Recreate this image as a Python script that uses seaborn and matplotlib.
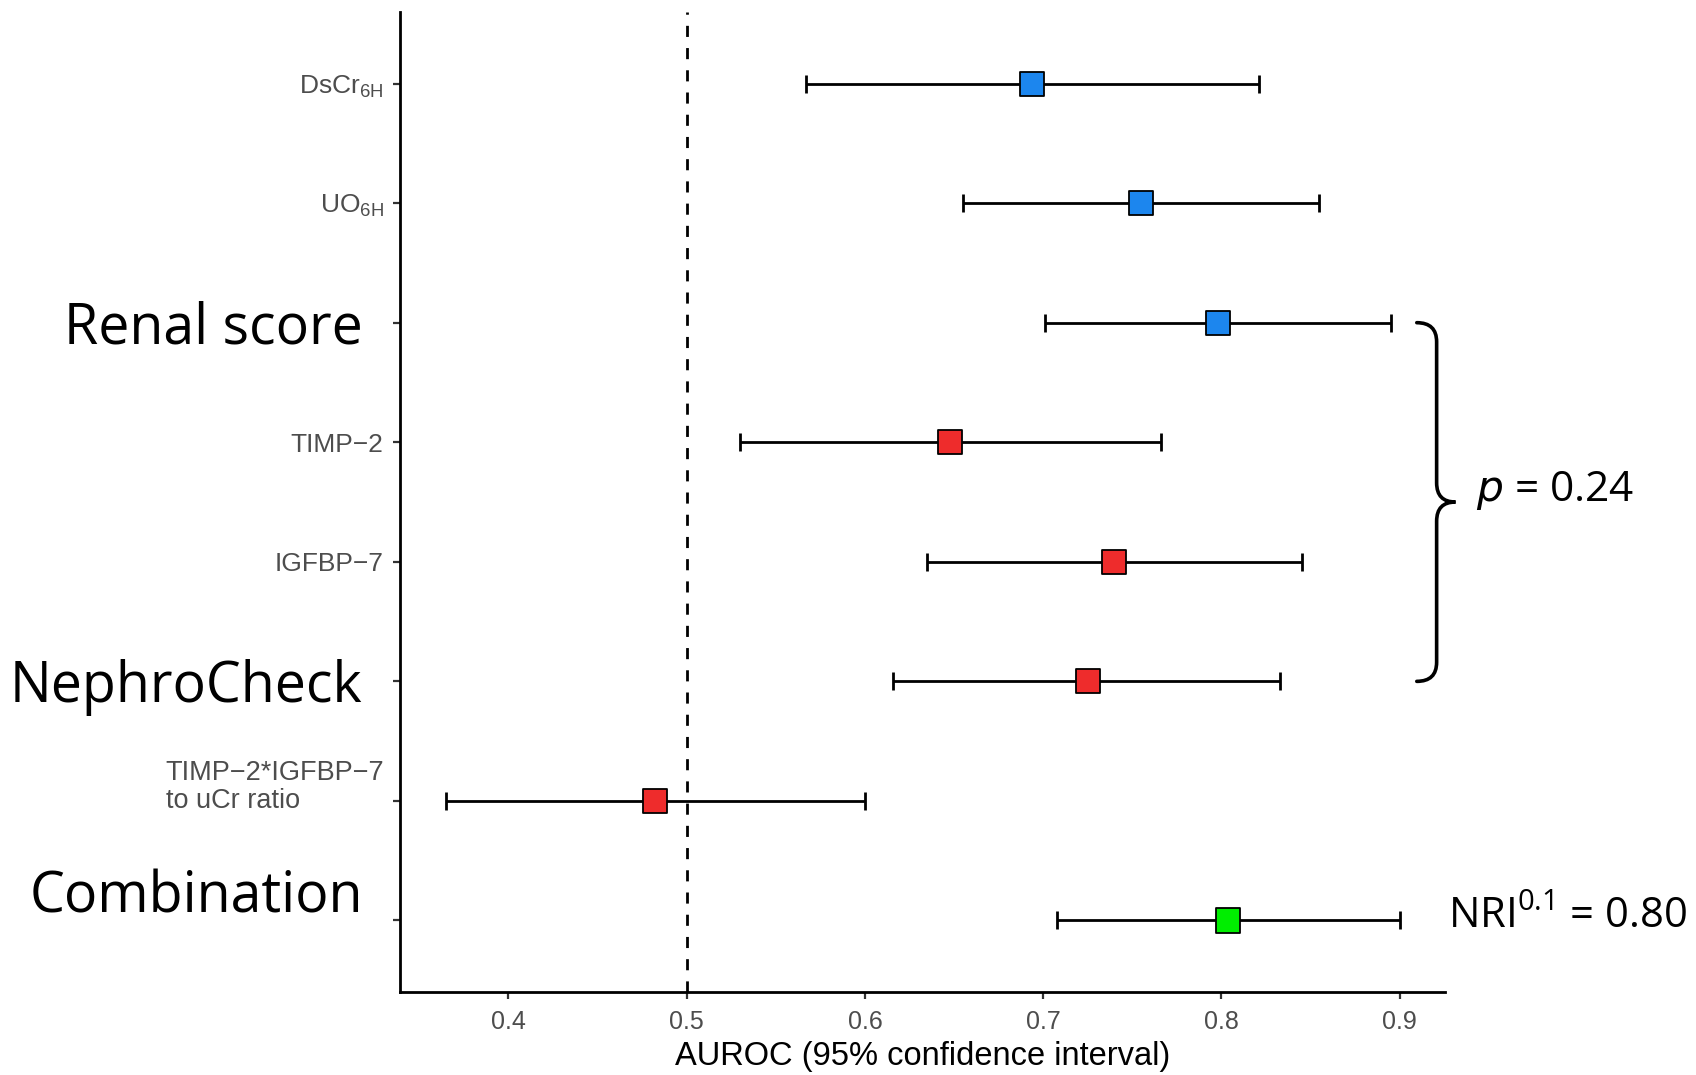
import numpy as np
import pandas as pd
import matplotlib
matplotlib.use("Agg")
import matplotlib.pyplot as plt
import seaborn as sns
from matplotlib.path import Path
from matplotlib.patches import PathPatch
import matplotlib.transforms as mtransforms

# ---- data ----
labels = ["DsCr6H", "UO6H", "Renal score", "TIMP-2", "IGFBP-7", "NephroCheck",
          "TIMP-2*IGFBP-7 to uCr ratio", "Combination"]
tick_text = [r"DsCr$_{\mathregular{6H}}$", r"UO$_{\mathregular{6H}}$", "",
             "TIMP\u22122", "IGFBP\u22127", "", "", ""]
multi_label = "TIMP\u22122*IGFBP\u22127\nto uCr ratio"
big_labels = ["Renal score", "NephroCheck", "Combination"]
auc = [0.694, 0.755, 0.798, 0.648, 0.740, 0.725, 0.482, 0.804]
ci_low = [0.567, 0.655, 0.701, 0.530, 0.635, 0.616, 0.365, 0.708]
ci_high = [0.821, 0.855, 0.895, 0.766, 0.845, 0.833, 0.600, 0.900]
group = ["clin", "clin", "clin", "bio", "bio", "bio", "bio", "comb"]
palette = {"clin": "#1C86EE", "bio": "#EE2C2C", "comb": "#00EE00"}
xticks = [0.4, 0.5, 0.6, 0.7, 0.8, 0.9]
p_text = r"$\mathit{p}$ = 0.24"
nri_text = r"NRI$^{\mathregular{0.1}}$ = 0.80"

df = pd.DataFrame({"label": labels, "auc": auc, "lo": ci_low, "hi": ci_high, "group": group})

sns.set_theme(style="ticks")
plt.rcParams["font.family"] = ["Liberation Sans", "DejaVu Sans"]
plt.rcParams["mathtext.default"] = "regular"

fig = plt.figure(figsize=(16.96, 10.75), dpi=100)
ax = fig.add_axes([0.236, 0.077, 0.616, 0.912])

# reference line
ax.axvline(0.5, color="black", lw=2.0, ls=(0, (4, 4)), zorder=1)

# confidence intervals
ax.errorbar(x=df["auc"], y=df["label"],
            xerr=[df["auc"] - df["lo"], df["hi"] - df["auc"]],
            fmt="none", ecolor="black", elinewidth=2.0, capsize=6.5, capthick=2.0, zorder=2)

# points
sns.scatterplot(data=df, x="auc", y="label", hue="group", palette=palette,
                marker="s", s=300, edgecolor="black", linewidth=1.3,
                legend=False, ax=ax, zorder=3)

n = len(labels)
ax.set_ylim(n - 1 + 0.6, -0.6)
ax.set_xlim(0.3393, 0.9255)
ax.set_xticks(xticks)
ax.set_xticklabels([f"{t:g}" for t in xticks])
ax.set_yticks(range(n))
ax.set_yticklabels(tick_text)

for lab in ax.get_yticklabels():
    lab.set_fontsize(19)
    lab.set_color("#4D4D4D")
for lab in ax.get_xticklabels():
    lab.set_fontsize(18)
    lab.set_color("#4D4D4D")

ax.tick_params(axis="both", length=5, width=1.6, color="#333333")
ax.tick_params(axis="y", pad=7)
ax.tick_params(axis="x", pad=8)
ax.set_ylabel("")
ax.set_xlabel("AUROC (95% confidence interval)", fontsize=23.5, color="black", labelpad=5)

sns.despine(ax=ax)
for side in ["left", "bottom"]:
    ax.spines[side].set_linewidth(2.0)
    ax.spines[side].set_color("black")

trans = mtransforms.blended_transform_factory(ax.transAxes, ax.transData)

# two-line tick label
ym_lab = labels.index("TIMP-2*IGFBP-7 to uCr ratio")
ax.annotate(multi_label, xy=(0, ym_lab - 0.12), xycoords=trans,
            xytext=(-11.5, 0), textcoords="offset points",
            ha="right", va="center", multialignment="left", linespacing=1.1,
            fontsize=19.5, color="#4D4D4D")

# large category labels
offsets = {"Renal score": 0.05, "NephroCheck": 0.05, "Combination": -0.19}
for name in big_labels:
    yi = labels.index(name)
    ax.text(-0.036, yi + offsets[name], name, transform=trans, ha="right", va="center",
            fontsize=40, family=["Open Sans", "DejaVu Sans"], color="black")

# brace from Renal score to NephroCheck
y0 = labels.index("Renal score")
y1 = labels.index("NephroCheck")
ym = (y0 + y1) / 2
xa, xb, xc = 0.973, 0.992, 1.010
r = 0.16
verts = [
    (xa, y0), (xb, y0), (xb, y0 + r),
    (xb, ym - r),
    (xb, ym), (xc, ym),
    (xb, ym), (xb, ym + r),
    (xb, y1 - r),
    (xb, y1), (xa, y1),
]
codes = [Path.MOVETO, Path.CURVE3, Path.CURVE3,
         Path.LINETO,
         Path.CURVE3, Path.CURVE3,
         Path.CURVE3, Path.CURVE3,
         Path.LINETO,
         Path.CURVE3, Path.CURVE3]
brace = PathPatch(Path(verts, codes), facecolor="none", edgecolor="black",
                  lw=2.6, transform=trans, clip_on=False, capstyle="round")
ax.add_patch(brace)

ax.text(1.03, ym - 0.1, p_text, transform=trans, ha="left", va="center",
        fontsize=30.5, family=["Open Sans", "DejaVu Sans"], color="black")

yc = labels.index("Combination")
ax.text(1.003, yc - 0.03, nri_text, transform=trans, ha="left", va="center",
        fontsize=30, family=["Open Sans", "DejaVu Sans"], color="black")

fig.savefig("out.png", dpi=100)
